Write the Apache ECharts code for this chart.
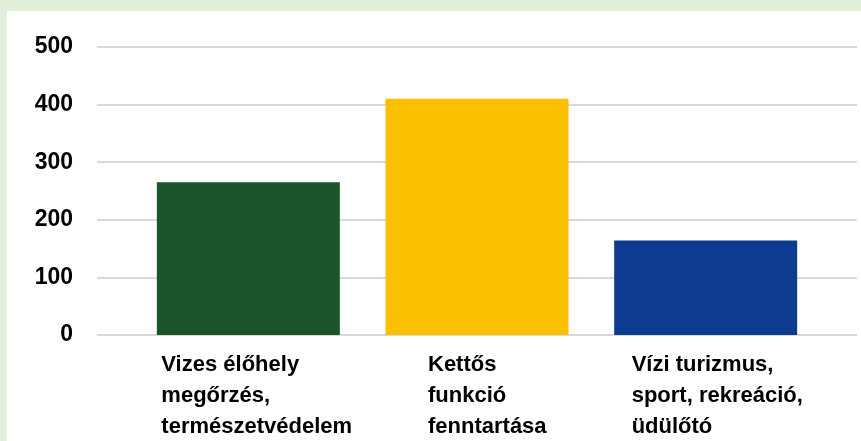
<!DOCTYPE html>
<html>
<head>
<meta charset="utf-8">
<script src="https://cdn.jsdelivr.net/npm/echarts@6/dist/echarts.min.js"></script>
<style>
  html, body { margin: 0; padding: 0; background: #e2efda; }
  #chart { position: absolute; left: 7px; top: 11px; width: 854px; height: 430px; background: #fff; }
</style>
</head>
<body>
<div id="chart"></div>
<script>
const categories = [
  'Vizes élőhely\nmegőrzés,\ntermészetvédelem',
  'Kettős\nfunkció\nfenntartása',
  'Vízi turizmus,\nsport, rekreáció,\nüdülőtó'
];
const values = [265, 410, 164];
const barColors = ['#1c5429', '#fbbf02', '#0c3b8f'];
const yTicks = [0, 100, 200, 300, 400, 500];

// how far each label block starts left of its bar centre (px)
const labelShift = [87, 49, 74];

const chart = echarts.init(document.getElementById('chart'), null, { renderer: 'canvas' });

const font = 'Arial, "Liberation Sans", sans-serif';
const rich = {};
labelShift.forEach((s, i) => {
  rich['c' + i] = {
    width: s * 2, align: 'left', fontSize: 22, fontWeight: 'bold',
    fontFamily: font, color: '#000', lineHeight: 31
  };
});

const option = {
  animation: false,
  grid: [
    { left: 90, right: 4, top: 36, bottom: 106 },
    { left: 127, right: 41, top: 36, bottom: 106 }
  ],
  xAxis: [
    { gridIndex: 0, type: 'value', show: false, min: 0, max: 1 },
    {
      gridIndex: 1,
      type: 'category',
      data: categories,
      axisLine: { show: false },
      axisTick: { show: false },
      axisLabel: {
        interval: 0,
        margin: 14,
        align: 'center',
        verticalAlign: 'top',
        formatter: (v, i) => v.split('\n').map(l => `{c${i}|${l}}`).join('\n'),
        rich: rich
      }
    }
  ],
  yAxis: [
    {
      gridIndex: 0,
      type: 'value',
      min: 0, max: 500, interval: 100,
      axisLine: { show: false },
      axisTick: { show: false },
      axisLabel: {
        margin: 24,
        fontSize: 23, fontWeight: 'bold', fontFamily: font, color: '#000',
        formatter: v => yTicks.includes(v) ? String(v) : ''
      },
      splitLine: { lineStyle: { color: '#d9d9d9', width: 2 } }
    },
    {
      gridIndex: 1,
      type: 'value',
      min: 0, max: 500, interval: 100,
      show: false,
      splitLine: { show: false }
    }
  ],
  series: [
    {
      type: 'bar',
      xAxisIndex: 1,
      yAxisIndex: 1,
      barWidth: 183,
      data: values.map((v, i) => ({ value: v, itemStyle: { color: barColors[i] } }))
    }
  ]
};

chart.setOption(option);
window.addEventListener('resize', chart.resize);
</script>
</body>
</html>
